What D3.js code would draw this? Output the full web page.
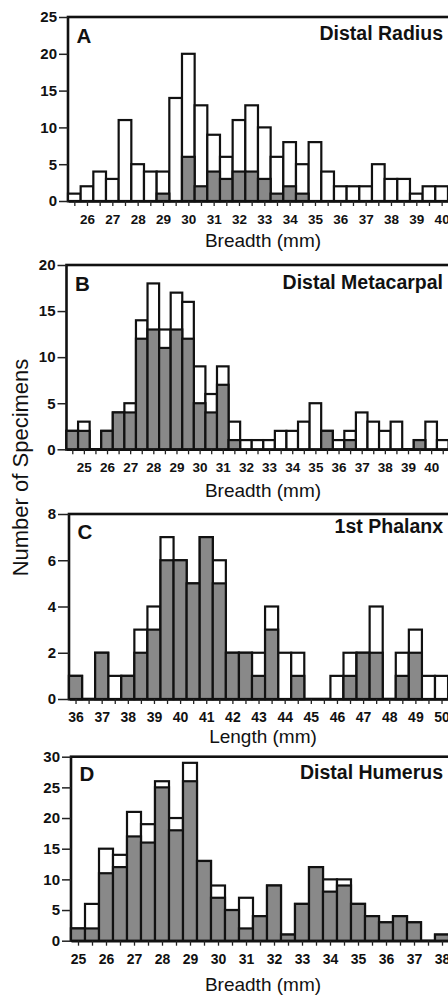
<!DOCTYPE html>
<html>
<head>
<meta charset="utf-8">
<script src="https://cdn.jsdelivr.net/npm/d3@7/dist/d3.min.js"></script>
<style>
  body { margin: 0; background: #fff; }
  svg { display: block; font-family: "Liberation Sans", Arial, Helvetica, sans-serif; }
</style>
</head>
<body>
<svg id="chart" width="448" height="997"></svg>
<script>
// ---- data (counts per 0.5 mm bin; total = all specimens, gray = shaded subset)
const radiusBins  = [25.5,26,26.5,27,27.5,28,28.5,29,29.5,30,30.5,31,31.5,32,32.5,33,33.5,34,34.5,35,35.5,36,36.5,37,37.5,38,38.5,39,39.5,40];
const radiusTotal = [1,2,4,3,11,5,4,4,14,20,13,9,6,11,13,10,6,8,5,8,4,2,2,2,5,3,3,1,2,2];
const radiusGray  = [0,0,0,0,0,0,0,1,0,6,2,4,3,4,4,3,1,2,1,0,0,0,0,0,0,0,0,0,0,0];

const metacarpalBins  = [24.5,25,25.5,26,26.5,27,27.5,28,28.5,29,29.5,30,30.5,31,31.5,32,32.5,33,33.5,34,34.5,35,35.5,36,36.5,37,37.5,38,38.5,39,39.5,40,40.5];
const metacarpalTotal = [2,3,0,2,4,5,14,18,13,17,16,9,6,9,3,1,1,1,2,2,3,5,2,1,2,4,3,2,3,0,1,3,1];
const metacarpalGray  = [2,2,0,2,4,4,12,13,11,13,12,5,4,7,1,0,0,0,0,0,0,0,2,0,1,0,0,0,0,0,1,0,0];

const phalanxBins  = [36,36.5,37,37.5,38,38.5,39,39.5,40,40.5,41,41.5,42,42.5,43,43.5,44,44.5,45,45.5,46,46.5,47,47.5,48,48.5,49,49.5,50];
const phalanxTotal = [1,0,2,1,1,3,4,7,6,5,7,6,2,2,2,4,2,2,0,0,1,2,2,4,0,2,3,1,1];
const phalanxGray  = [1,0,2,0,1,2,3,6,6,5,7,5,2,2,1,3,0,1,0,0,0,1,2,2,0,1,2,0,0];

const humerusBins  = [25,25.5,26,26.5,27,27.5,28,28.5,29,29.5,30,30.5,31,31.5,32,32.5,33,33.5,34,34.5,35,35.5,36,36.5,37,37.5,38];
const humerusTotal = [2,6,15,14,21,19,26,20,29,13,9,5,7,4,9,1,6,12,10,10,6,4,3,4,3,0,1];
const humerusGray  = [2,2,11,12,17,16,25,18,26,13,7,5,2,4,9,1,6,12,8,9,6,4,3,4,3,0,1];

const panelLetters = ["A", "B", "C", "D"];
const panelTitles  = ["Distal Radius", "Distal Metacarpal", "1st Phalanx", "Distal Humerus"];
const xTitles      = ["Breadth (mm)", "Breadth (mm)", "Length (mm)", "Breadth (mm)"];
const yTickSets    = [[0,5,10,15,20,25], [0,5,10,15,20], [0,2,4,6,8], [0,5,10,15,20,25,30]];

// ---- layout
const layout = [
  { bins: radiusBins, total: radiusTotal, gray: radiusGray,
    xd: [25.25, 40.5], xr: [68, 454.3], yr: [201, 17], yMax: 25, ytick: 9,
    letterY: 42.7, titleY: 40, xTitleY: 247, xLabFs: 13.5 },
  { bins: metacarpalBins, total: metacarpalTotal, gray: metacarpalGray,
    xd: [24.25, 41], xr: [66.5, 454.3], yr: [449.3, 265], yMax: 20, ytick: 9,
    letterY: 291, titleY: 289.3, xTitleY: 496.5, xLabFs: 13.5 },
  { bins: phalanxBins, total: phalanxTotal, gray: phalanxGray,
    xd: [35.75, 50.5], xr: [69, 454.6], yr: [699, 514], yMax: 8, ytick: 11,
    letterY: 539.3, titleY: 533.3, xTitleY: 742.7, xLabFs: 14 },
  { bins: humerusBins, total: humerusTotal, gray: humerusGray,
    xd: [24.75, 38.5], xr: [71, 456], yr: [940.7, 756.7], yMax: 30, ytick: 9,
    letterY: 780.7, titleY: 779, xTitleY: 990.5, xLabFs: 14 }
];

const svg = d3.select("#chart");
const grayFill = "#898989";

layout.forEach((p, i) => {
  const x = d3.scaleLinear().domain(p.xd).range(p.xr);
  const y = d3.scaleLinear().domain([0, p.yMax]).range(p.yr);
  const g = svg.append("g");
  const rows = p.bins.map((b, k) => ({ bin: b, total: p.total[k], gray: p.gray[k] }));

  // frame
  g.append("rect")
    .attr("x", p.xr[0]).attr("y", p.yr[1])
    .attr("width", p.xr[1] - p.xr[0]).attr("height", p.yr[0] - p.yr[1])
    .attr("fill", "none").attr("stroke", "#111").attr("stroke-width", 2.6);

  // white (total) bars
  g.selectAll(".tot").data(rows.filter(d => d.total > 0)).join("rect")
    .attr("x", d => x(d.bin - 0.25)).attr("width", d => x(d.bin + 0.25) - x(d.bin - 0.25))
    .attr("y", d => y(d.total)).attr("height", d => y(0) - y(d.total))
    .attr("fill", "#fff").attr("stroke", "#111").attr("stroke-width", 2.2);

  // gray subset bars
  g.selectAll(".gr").data(rows.filter(d => d.gray > 0)).join("rect")
    .attr("x", d => x(d.bin - 0.25)).attr("width", d => x(d.bin + 0.25) - x(d.bin - 0.25))
    .attr("y", d => y(d.gray)).attr("height", d => y(0) - y(d.gray))
    .attr("fill", grayFill).attr("stroke", "#111").attr("stroke-width", 2.2);

  // x axis
  const xa = g.append("g")
    .attr("transform", `translate(0,${p.yr[0]})`)
    .call(d3.axisBottom(x).tickValues(p.bins).tickSize(5).tickSizeOuter(0).tickPadding(8)
      .tickFormat(d => Number.isInteger(d) ? d : ""));
  xa.select(".domain").attr("stroke", "#111").attr("stroke-width", 2.6);
  xa.selectAll(".tick line").attr("stroke", "#222").attr("stroke-width", 1.3);
  xa.selectAll("text").attr("font-size", p.xLabFs).attr("font-weight", "bold").attr("fill", "#111");

  // y axis
  const ya = g.append("g")
    .attr("transform", `translate(${p.xr[0]},0)`)
    .call(d3.axisLeft(y).tickValues(yTickSets[i]).tickSize(p.ytick).tickPadding(2));
  ya.select(".domain").remove();
  ya.selectAll(".tick line").attr("stroke", "#222").attr("stroke-width", 1.5);
  ya.selectAll("text").attr("font-size", 15).attr("font-weight", "bold").attr("fill", "#111");

  // labels
  g.append("text").attr("x", p.xr[0] + 8.5).attr("y", p.letterY)
    .attr("font-size", 20.5).attr("font-weight", "bold").attr("fill", "#111")
    .text(panelLetters[i]);
  g.append("text").attr("x", 443).attr("y", p.titleY).attr("text-anchor", "end")
    .attr("font-size", 19.5).attr("font-weight", "bold").attr("fill", "#111")
    .text(panelTitles[i]);
  g.append("text").attr("x", 263).attr("y", p.xTitleY).attr("text-anchor", "middle")
    .attr("font-size", 19).attr("fill", "#111")
    .text(xTitles[i]);
});

svg.append("text")
  .attr("transform", "translate(28.3,467.5) rotate(-90)")
  .attr("text-anchor", "middle")
  .attr("font-size", 22).attr("fill", "#111")
  .text("Number of Specimens");
</script>
</body>
</html>
